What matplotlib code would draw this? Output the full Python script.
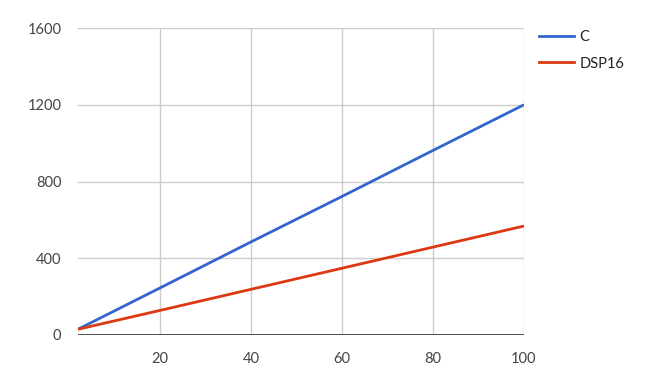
import matplotlib.pyplot as plt
from matplotlib.lines import Line2D

plt.rcParams['font.family'] = ['Lato', 'DejaVu Sans']

# Values
x_vals = [2, 20, 40, 60, 80, 100]
c_vals = [30, 245, 485, 722, 962, 1200]
dsp16_vals = [30, 128, 238, 348, 458, 568]
y_ticks = [0, 400, 800, 1200, 1600]
x_ticks = [20, 40, 60, 80, 100]

BLUE = '#3366cc'
RED = '#dc3912'

fig = plt.figure(figsize=(6.46, 3.81), dpi=100)
ax = fig.add_axes([78 / 646, 1 - 335 / 381, (524 - 78) / 646, (335 - 28) / 381])

ax.plot(x_vals, c_vals, color=BLUE, lw=2, solid_capstyle='butt', zorder=3)
ax.plot(x_vals, dsp16_vals, color=RED, lw=2, solid_capstyle='butt', zorder=3)

ax.set_xlim(2, 100)
ax.set_ylim(0, 1600)
ax.set_xticks(x_ticks)
ax.set_yticks(y_ticks)
ax.grid(True, color='#cccccc', lw=1)
ax.axhline(0, color='#333333', lw=1.2, zorder=4)
for s in ax.spines.values():
    s.set_visible(False)
ax.tick_params(length=0, labelsize=10.5, labelcolor='#444444')
ax.tick_params(axis='x', pad=12)
ax.tick_params(axis='y', pad=12)

# legend drawn at the right, like the reference
handles = [Line2D([], [], color=BLUE, lw=2), Line2D([], [], color=RED, lw=2)]
fig.legend(handles, ['C', 'DSP16'], loc='upper left', bbox_to_anchor=(526 / 646, 1 - 17 / 381),
           frameon=False, fontsize=10.5, handlelength=2.4, labelspacing=0.85,
           handletextpad=0.35, labelcolor='#222222')

fig.savefig('out.png', dpi=100)
